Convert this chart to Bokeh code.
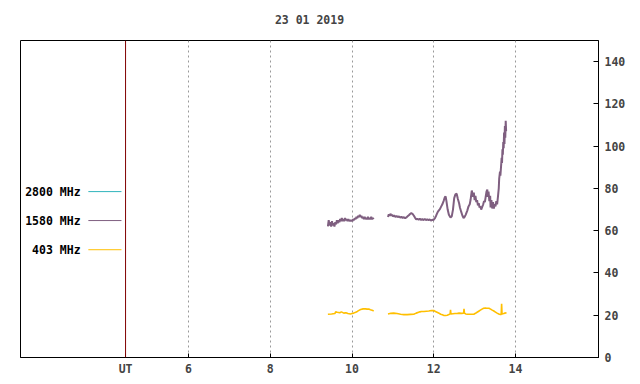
import numpy as np
from bokeh.plotting import figure
from bokeh.models import FixedTicker, Span, CustomJSTickFormatter, Range1d, ColumnDataSource
from bokeh.core.properties import value
from bokeh.embed import file_html
from bokeh.resources import INLINE

TITLE = "23 01 2019"
X_TICKS = [4.46, 6, 8, 10, 12, 14]
GRID_TICKS = [6, 8, 10, 12, 14]
Y_TICKS = [0, 20, 40, 60, 80, 100, 120, 140]
UT_MARK = 4.46

SERIES_NAMES = ["2800 MHz", "1580 MHz", "403 MHz"]
SERIES_COLORS = ["#30b4bc", "#7f5f80", "#ffbf00"]
LEGEND_Y = [78.5, 64.8, 51.0]

nan = float("nan")

hours_1580 = [9.41, 9.43, 9.45, 9.47, 9.49, 9.51, 9.53, 9.55, 9.57, 9.59, 9.61, 9.63, 9.65, 9.67, 9.69,
              9.71, 9.73, 9.75, 9.77, 9.79, 9.81, 9.83, 9.85, 9.87, 9.89, 9.91, 9.93, 9.95, 9.97, 9.99,
              10.01, 10.03, 10.05, 10.07, 10.09, 10.11, 10.13, 10.15, 10.17, 10.19, 10.21, 10.23, 10.25,
              10.27, 10.29, 10.31, 10.33, 10.35, 10.37, 10.39, 10.41, 10.43, 10.45, 10.47, 10.49, 10.51, 10.53,
              10.70,
              10.88, 10.90, 10.92, 10.94, 10.96, 10.98, 11.00, 11.03, 11.06, 11.09, 11.12, 11.15, 11.18,
              11.21, 11.24, 11.27, 11.30, 11.33, 11.36, 11.39, 11.42, 11.45, 11.48, 11.51, 11.54, 11.57,
              11.60, 11.63, 11.66, 11.69, 11.72, 11.75, 11.78, 11.81, 11.84, 11.87, 11.90, 11.93, 11.96,
              11.99, 12.03, 12.06, 12.09, 12.12, 12.15, 12.18, 12.21, 12.24, 12.27, 12.29, 12.31, 12.34,
              12.37, 12.41, 12.44, 12.47, 12.50, 12.53, 12.56, 12.59, 12.62, 12.64, 12.67, 12.70, 12.73,
              12.75, 12.78, 12.82, 12.85, 12.88, 12.90, 12.93, 12.96, 12.98, 13.00, 13.02, 13.04, 13.06,
              13.08, 13.10, 13.12, 13.14, 13.16, 13.19, 13.21, 13.23, 13.25, 13.27, 13.29, 13.31, 13.32,
              13.34, 13.36, 13.38, 13.39, 13.41, 13.43, 13.45, 13.47, 13.49, 13.51, 13.53, 13.55, 13.57,
              13.59, 13.60, 13.62, 13.63, 13.65, 13.66, 13.67, 13.68, 13.69, 13.70, 13.71, 13.72, 13.73,
              13.74, 13.75, 13.76, 13.77, 13.78]
flux_1580 = [62.0, 65.0, 62.5, 64.0, 62.0, 64.5, 62.5, 63.5, 62.0, 64.0, 63.0, 65.0, 63.5, 65.0, 64.0,
             65.5, 64.5, 66.0, 64.5, 65.5, 64.5, 66.0, 65.0, 65.5, 64.5, 65.5, 64.5, 65.0, 64.5, 65.0,
             64.5, 65.5, 65.0, 66.0, 65.5, 66.5, 66.0, 67.0, 66.5, 67.5, 66.5, 67.0, 66.0,
             66.5, 65.5, 66.5, 65.5, 66.0, 65.5, 66.5, 65.5, 66.0, 65.5, 66.5, 65.5, 66.0, 65.5,
             nan,
             66.5, 67.8, 67.0, 68.0, 67.2, 67.6, 66.8, 67.2, 66.5, 67.0, 66.4, 66.8, 66.2,
             66.6, 66.0, 66.4, 65.9, 66.3, 66.8, 67.3, 67.9, 68.3, 68.0, 67.2, 66.2, 65.4,
             65.6, 65.2, 65.6, 65.1, 65.5, 65.0, 65.6, 65.0, 65.4, 65.0, 65.3, 64.8, 65.2,
             65.0, 66.0, 67.2, 68.6, 69.5, 70.2, 71.4, 72.5, 74.0, 75.8, 76.2, 74.0,
             70.0, 67.5, 66.2, 66.8, 70.0, 75.4, 77.2, 77.5, 75.0, 73.0, 71.0, 69.0, 67.2,
             66.0, 66.4, 67.5, 69.5, 71.5, 72.5, 74.5, 79.0, 76.0, 78.0, 74.5, 76.5, 73.5,
             74.5, 72.0, 73.0, 71.0, 71.5, 70.0, 71.5, 72.5, 74.0, 73.5, 76.0, 78.5, 79.5,
             76.0, 78.5, 74.0, 76.5, 71.0, 74.5, 70.5, 73.5, 70.5, 72.5, 71.5, 74.0, 72.5,
             76.0, 80.0, 84.5, 88.0, 86.0, 91.5, 94.5, 92.0, 98.5, 96.0, 102.0, 99.0, 106.5,
             101.0, 109.5, 104.0, 112.0, 107.0]

hours_403 = [9.41, 9.50, 9.58, 9.60, 9.64, 9.70, 9.74, 9.80, 9.85, 9.90, 9.96, 10.00, 10.04, 10.09, 10.13,
             10.17, 10.21, 10.27, 10.33, 10.37, 10.41, 10.45, 10.49, 10.53,
             10.70,
             10.88, 10.95, 11.02, 11.10, 11.19, 11.27, 11.35, 11.43, 11.51, 11.57, 11.63, 11.66, 11.70,
             11.76, 11.82, 11.88, 11.94, 12.00, 12.04, 12.08, 12.13, 12.17, 12.21, 12.25, 12.29, 12.33,
             12.37, 12.40, 12.41, 12.42, 12.47, 12.52, 12.57, 12.62, 12.68, 12.73, 12.74, 12.75, 12.78,
             12.82, 12.88, 12.93, 12.98, 13.02, 13.06, 13.10, 13.14, 13.18, 13.22, 13.26, 13.30, 13.35,
             13.39, 13.43, 13.47, 13.51, 13.55, 13.59, 13.63, 13.65, 13.66, 13.67, 13.71, 13.74, 13.78]
flux_403 = [20.5, 20.6, 20.8, 21.6, 21.4, 21.2, 21.6, 21.0, 21.2, 20.8, 20.6, 20.8, 21.0, 21.4, 21.8,
            22.3, 22.7, 23.0, 23.0, 22.9, 22.9, 22.6, 22.4, 22.0,
            nan,
            20.6, 20.9, 21.0, 20.8, 20.5, 20.3, 20.3, 20.4, 20.5, 21.0, 21.4, 21.6, 21.8,
            21.8, 21.9, 22.0, 22.2, 22.2, 21.8, 21.4, 20.9, 20.5, 20.2, 19.9, 19.9, 20.0,
            20.3, 20.6, 22.5, 20.6, 20.7, 20.8, 20.8, 21.0, 20.9, 21.0, 23.0, 21.0, 20.6,
            20.5, 20.5, 20.5, 20.5, 20.9, 21.4, 21.9, 22.4, 22.9, 23.3, 23.4, 23.3, 23.3,
            22.9, 22.4, 22.0, 21.5, 21.0, 20.6, 20.3, 20.4, 25.4, 20.6, 20.8, 21.0, 21.2]

FONT = "DejaVu Sans Mono"

p = figure(frame_width=578, frame_height=317, output_backend="svg", toolbar_location=None,
           x_range=Range1d(1.89, 16.03), y_range=Range1d(0, 150),
           y_axis_location="right", title=TITLE,
           min_border_left=20, min_border_right=34, min_border_top=39, min_border_bottom=20)

p.outline_line_color = "black"
p.outline_line_alpha = 1
p.background_fill_color = "white"
p.border_fill_color = "white"

p.title.text_font = FONT
p.title.text_font_size = "11.5px"
p.title.text_font_style = "bold"
p.title.align = "center"
p.title.vertical_align = "top"
p.title.standoff = 24

xa = p.xaxis[0]
xa.ticker = FixedTicker(ticks=X_TICKS)
xa.formatter = CustomJSTickFormatter(code="return tick < 5 ? 'UT' : tick.toFixed(0);")
xa.major_tick_in = 4
xa.major_tick_out = 0
xa.minor_tick_line_color = None
xa.axis_line_color = "black"
xa.major_label_text_font = FONT
xa.major_label_text_font_size = "11.5px"
xa.major_label_text_font_style = "bold"
xa.major_label_standoff = 4

ya = p.yaxis[0]
ya.ticker = FixedTicker(ticks=Y_TICKS)
ya.major_tick_in = 5
ya.major_tick_out = 0
ya.minor_tick_line_color = None
ya.major_label_text_font = FONT
ya.major_label_text_font_size = "11.5px"
ya.major_label_text_font_style = "bold"
ya.major_label_standoff = 6

p.xgrid.ticker = FixedTicker(ticks=GRID_TICKS)
p.xgrid.grid_line_color = "#999999"
p.xgrid.grid_line_dash = "2 3"
p.ygrid.grid_line_color = None

p.add_layout(Span(location=UT_MARK, dimension="height", line_color="#800000", line_width=1))

p.line(hours_403, flux_403, line_color=SERIES_COLORS[2], line_width=1.6)
p.line(hours_1580, flux_1580, line_color=SERIES_COLORS[1], line_width=2)

# legend drawn as text + short lines (label left, line right)
leg = ColumnDataSource(dict(name=SERIES_NAMES, color=SERIES_COLORS, y=LEGEND_Y,
                            tx=[3.36] * 3, x0=[3.55] * 3, x1=[4.36] * 3))
p.text(x="tx", y="y", text="name", source=leg, text_align="right", text_baseline="middle",
       text_font=value(FONT), text_font_size="11.5px", text_font_style="bold", text_color="black")
p.segment(x0="x0", y0="y", x1="x1", y1="y", line_color="color", line_width=1, source=leg)

open("out.html", "w").write(file_html(p, INLINE))
